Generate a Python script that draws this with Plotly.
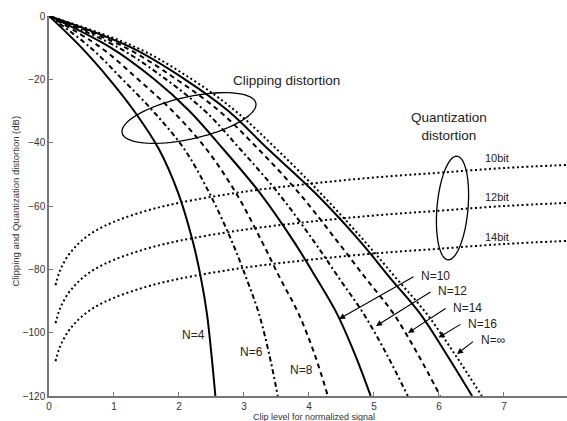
import plotly.graph_objects as go
import numpy as np

# ---------------- data ----------------
y_levels = [0, -10, -20, -30, -42, -56, -71, -83, -94, -107, -120]
n4_x   = [0, 0.50, 0.93, 1.31, 1.69, 1.99, 2.21, 2.34, 2.43, 2.50, 2.56]
n6_x   = [0, 0.64, 1.13, 1.60, 2.08, 2.47, 2.81, 3.04, 3.23, 3.39, 3.52]
n8_x   = [0, 0.80, 1.37, 1.90, 2.42, 2.88, 3.27, 3.56, 3.84, 4.09, 4.29]
n10_x  = [0, 0.95, 1.62, 2.16, 2.68, 3.25, 3.76, 4.12, 4.43, 4.71, 4.95]
n12_x  = [0, 1.07, 1.80, 2.40, 2.94, 3.53, 4.07, 4.47, 4.84, 5.20, 5.52]
n14_x  = [0, 1.18, 1.96, 2.62, 3.22, 3.85, 4.43, 4.88, 5.30, 5.68, 6.02]
n16_x  = [0, 1.27, 2.09, 2.76, 3.37, 4.10, 4.78, 5.26, 5.71, 6.12, 6.51]
ninf_x = [0, 1.35, 2.20, 2.87, 3.50, 4.18, 4.85, 5.35, 5.81, 6.25, 6.66]

quant_x    = [0.1, 0.15, 0.2, 0.3, 0.4, 0.5, 0.7, 1.0, 1.5, 2.0, 3.0, 4.0, 5.0, 6.0, 7.0, 8.0]
q10bit_y   = [-85, -81.5, -79, -75.5, -73, -71, -68, -65, -61.5, -59, -55.5, -53, -51, -49.5, -48, -47]
q12bit_y   = [-97, -93.5, -91, -87.5, -85, -83, -80, -77, -73.5, -71, -67.5, -65, -63, -61.5, -60, -59]
q14bit_y   = [-109, -105.5, -103, -99.5, -97, -95, -92, -89, -85.5, -83, -79.5, -77, -75, -73.5, -72, -71]

x_ticks = [0, 1, 2, 3, 4, 5, 6, 7]
y_ticks = [0, -20, -40, -60, -80, -100, -120]

# ---------------- layout geometry ----------------
W, H = 567, 421
ML, MT, MR, MB = 49, 16, 0, 25
X0, X1 = 0, 7.97
Y0, Y1 = -120, 0
pw, ph = W - ML - MR, H - MT - MB


def px2d(px, py):
    x = X0 + (px - ML) / pw * (X1 - X0)
    y = Y1 - (py - MT) / ph * (Y1 - Y0)
    return x, y


def ellipse_path(cx, cy, a, b, ang_deg, n=80):
    t = np.linspace(0, 2 * np.pi, n)
    ang = np.radians(ang_deg)
    ex = a * np.cos(t)
    ey = b * np.sin(t)
    pxs = cx + ex * np.cos(ang) - ey * np.sin(ang)
    pys = cy + ex * np.sin(ang) + ey * np.cos(ang)
    pts = [px2d(u, v) for u, v in zip(pxs, pys)]
    return "M " + " L ".join(f"{u:.4f},{v:.4f}" for u, v in pts) + " Z"


fig = go.Figure()

DOT = "2px,2.7px"
DASH = "5px,4px"
DASHDOT = "5px,3px,2px,3px"

for qy in (q10bit_y, q12bit_y, q14bit_y):
    fig.add_trace(go.Scatter(x=quant_x, y=qy, mode="lines",
                             line=dict(color="black", width=2, dash=DOT, shape="spline"),
                             showlegend=False, hoverinfo="skip"))

curves = [
    (n4_x, "solid"), (n6_x, DASHDOT), (n8_x, DASH), (n10_x, "solid"),
    (n12_x, DASHDOT), (n14_x, DASH), (n16_x, "solid"), (ninf_x, DOT),
]
for cx, ds in curves:
    fig.add_trace(go.Scatter(x=cx, y=y_levels, mode="lines",
                             line=dict(color="black", width=2, dash=ds, shape="spline",
                                       smoothing=1.0),
                             showlegend=False, hoverinfo="skip"))

shapes = [
    dict(type="path", xref="x", yref="y", path=ellipse_path(189, 118, 68.5, 21, -12.6),
         line=dict(color="black", width=1.3)),
    dict(type="path", xref="x", yref="y", path=ellipse_path(452.5, 208, 52, 15.5, 95),
         line=dict(color="black", width=1.3)),
]

ann = []
FONT = "Liberation Sans, Arial, sans-serif"


def text(px, py, s, size, xanchor="center"):
    x, y = px2d(px, py)
    ann.append(dict(x=x, y=y, xref="x", yref="y", text=s, showarrow=False,
                    xanchor=xanchor, yanchor="middle",
                    font=dict(family=FONT, size=size, color="#222")))


def arrow(hx, hy, tx, ty):
    x, y = px2d(hx, hy)
    ax, ay = px2d(tx, ty)
    ann.append(dict(x=x, y=y, xref="x", yref="y", ax=ax, ay=ay, axref="x", ayref="y",
                    text="", showarrow=True, arrowhead=2, arrowsize=1.1, arrowwidth=1.1,
                    arrowcolor="black", standoff=0, startstandoff=0))


text(286, 80, "Clipping distortion", 13.5)
text(409, 126.5, "Quantization<br>distortion", 13.5, xanchor="left")
text(483, 158, "10bit", 11, xanchor="left")
text(483, 197, "12bit", 11, xanchor="left")
text(483, 236.5, "14bit", 11, xanchor="left")
text(193.5, 335, "N=4", 12)
text(251.5, 352, "N=6", 12)
text(301.5, 370, "N=8", 12)
text(419, 276, "N=10", 12, xanchor="left")
text(436, 291, "N=12", 12, xanchor="left")
text(451, 307.5, "N=14", 12, xanchor="left")
text(465.5, 323.5, "N=16", 12, xanchor="left")
text(479, 339.5, "N=∞", 12, xanchor="left")

arrow(339, 319, 415, 276)
arrow(376, 326, 432, 291)
arrow(408, 333, 447, 307.5)
arrow(438.5, 337.5, 462, 323.5)
arrow(457, 354, 474.5, 340.5)

# axis titles (placed as annotations so they sit where the reference has them)
ann.append(dict(x=(314 - ML) / pw, y=-(416.5 - (MT + ph)) / ph,
                xref="paper", yref="paper", text="Clip level for normalized signal",
                showarrow=False, xanchor="center", yanchor="middle",
                font=dict(family=FONT, size=9, color="#333")))
ann.append(dict(x=-(ML - 15) / pw, y=1 - (201.5 - MT) / ph, xref="paper", yref="paper",
                text="Clipping and Quantization distortion (dB)", textangle=-90,
                showarrow=False, xanchor="center", yanchor="middle",
                font=dict(family=FONT, size=9.5, color="#333")))

fig.update_layout(
    width=W, height=H, margin=dict(l=ML, r=MR, t=MT, b=MB),
    plot_bgcolor="white", paper_bgcolor="white",
    shapes=shapes, annotations=ann, showlegend=False,
    xaxis=dict(range=[X0, X1], tickvals=x_ticks, ticks="inside", ticklen=4,
               tickcolor="#777", tickwidth=1.3, showline=True, linecolor="#777",
               linewidth=1.5, showgrid=False, zeroline=False, mirror=False,
               tickfont=dict(family=FONT, size=10, color="#333")),
    yaxis=dict(range=[Y0, Y1], tickvals=y_ticks, ticks="inside", ticklen=4,
               tickcolor="#777", tickwidth=1.3, showline=True, linecolor="#777",
               linewidth=1.5, showgrid=False, zeroline=False, mirror=False,
               tickfont=dict(family=FONT, size=10, color="#333")),
)

fig.write_html("out.html")
